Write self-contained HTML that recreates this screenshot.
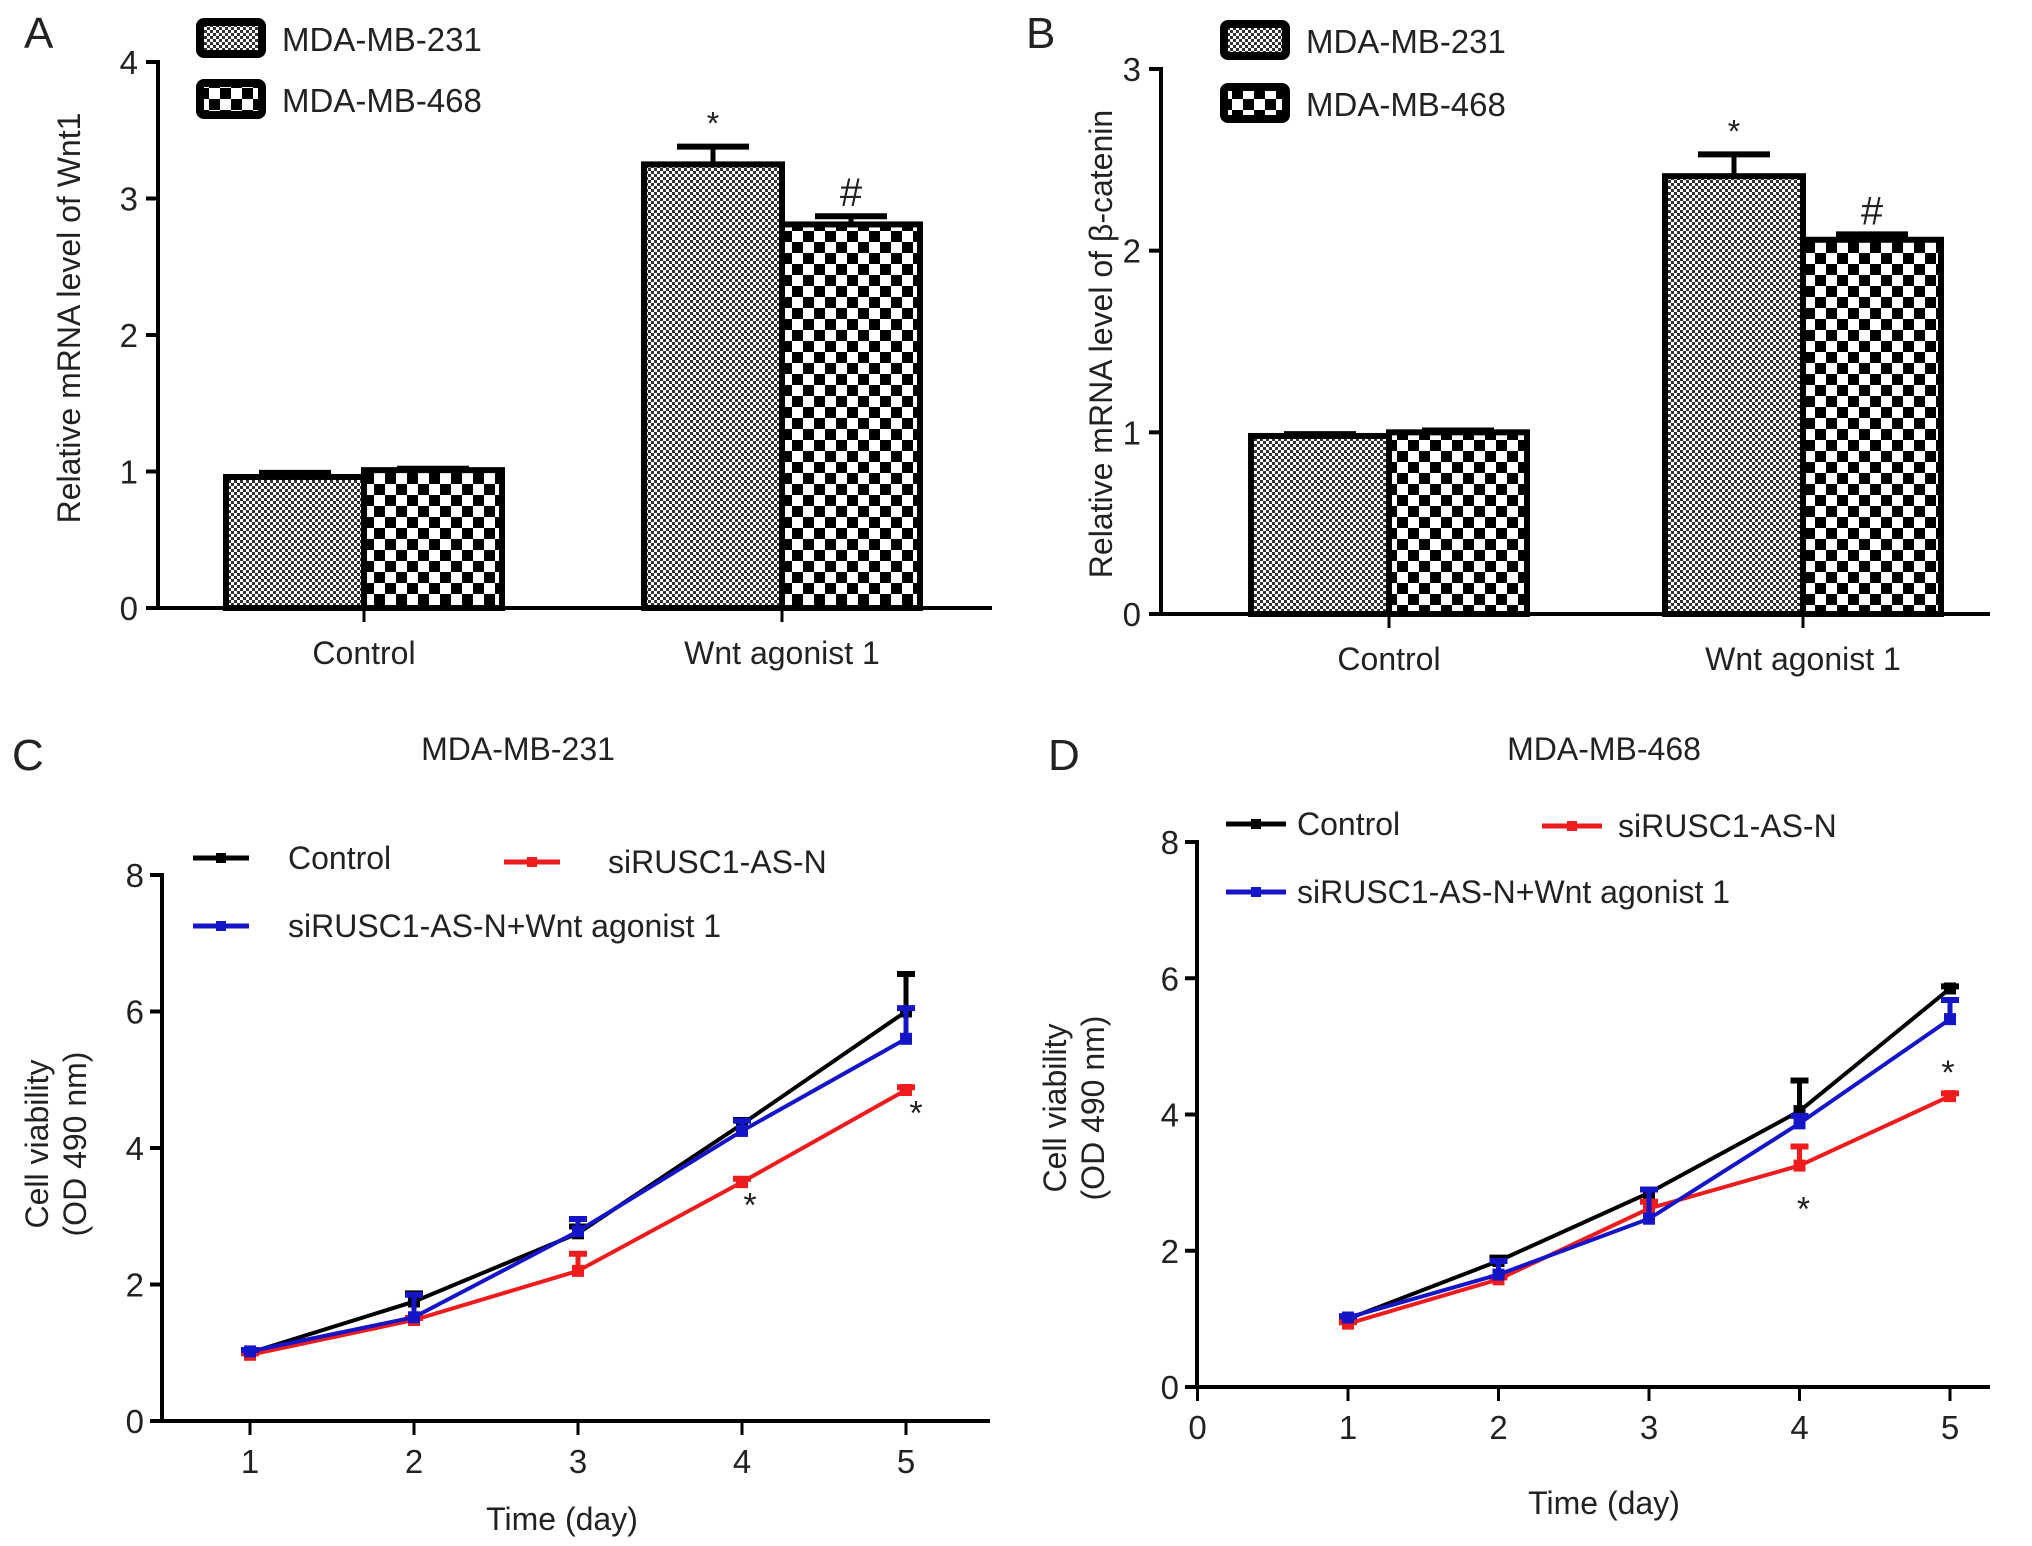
<!DOCTYPE html>
<html><head><meta charset="utf-8"><style>
body{margin:0;background:#fff}
svg{display:block;font-family:"Liberation Sans",Arial,sans-serif}
</style></head><body>
<svg id="fig" width="2032" height="1546" viewBox="0 0 2032 1546" xmlns="http://www.w3.org/2000/svg">
<defs>
<pattern id="fine" width="6" height="6" patternUnits="userSpaceOnUse">
<rect width="6" height="6" fill="#fff"/><rect width="3" height="3" fill="#333"/><rect x="3" y="3" width="3" height="3" fill="#333"/>
</pattern>
<pattern id="coarse" width="22" height="22" patternUnits="userSpaceOnUse">
<rect width="22" height="22" fill="#fff"/><rect width="11" height="11" fill="#000"/><rect x="11" y="11" width="11" height="11" fill="#000"/>
</pattern>
</defs>
</svg>
<script>
// ---- data ----
const barCategories = ["Control", "Wnt agonist 1"];
const barSeries = ["MDA-MB-231", "MDA-MB-468"];
const wnt1Values231 = [0.96, 3.25];
const wnt1Errors231 = [0.03, 0.13];
const wnt1Values468 = [1.01, 2.81];
const wnt1Errors468 = [0.01, 0.06];
const bcatValues231 = [0.98, 2.41];
const bcatErrors231 = [0.01, 0.12];
const bcatValues468 = [1.00, 2.06];
const bcatErrors468 = [0.01, 0.03];
const aTicks = [0, 1, 2, 3, 4];
const bTicks = [0, 1, 2, 3];
const aMarks = ["*", "#"];

const days = [1, 2, 3, 4, 5];
const cControl = [1.0, 1.75, 2.75, 4.35, 6.0];
const cControlErr = [0.03, 0.12, 0.1, 0.06, 0.55];
const cSi = [0.97, 1.48, 2.2, 3.5, 4.85];
const cSiErr = [0.02, 0.03, 0.25, 0.05, 0.04];
const cSiW = [1.02, 1.52, 2.78, 4.25, 5.6];
const cSiWErr = [0.02, 0.33, 0.18, 0.15, 0.45];
const dControl = [1.0, 1.85, 2.85, 4.05, 5.85];
const dControlErr = [0.03, 0.05, 0.05, 0.45, 0.03];
const dSi = [0.93, 1.58, 2.62, 3.25, 4.27];
const dSiErr = [0.02, 0.03, 0.1, 0.28, 0.04];
const dSiW = [1.02, 1.65, 2.47, 3.87, 5.4];
const dSiWErr = [0.02, 0.2, 0.43, 0.11, 0.28];
const lineTicksY = [0, 2, 4, 6, 8];
const dTicksX = [0, 1, 2, 3, 4, 5];
const lineLegend = ["Control", "siRUSC1-AS-N", "siRUSC1-AS-N+Wnt agonist 1"];

const NS = "http://www.w3.org/2000/svg";
const svg = document.getElementById("fig");
function el(tag, attrs, parent, text) {
  const e = document.createElementNS(NS, tag);
  for (const k in attrs) e.setAttribute(k, attrs[k]);
  if (text !== undefined) e.textContent = text;
  (parent || svg).appendChild(e);
  return e;
}
function grp(name, parent) {
  const g = el("g", {}, parent);
  
  
  return g;
}
function txt(parent, name, x, y, s, size, anchor, extra) {
  const t = el("text", Object.assign({x: x, y: y, "font-size": size, "text-anchor": anchor || "middle", fill: "#222"}, extra || {}), parent, s);
  
  
  return t;
}

// ---- bar panel ----
function barPanel(cfg) {
  const g = grp(cfg.name);
  const y = v => cfg.y0 - v * (cfg.y0 - cfg.yTop) / cfg.ymax;
  txt(g, "panel-letter", cfg.letterX, cfg.letterY, cfg.letter, 44, "start");
  const ax = grp("y-axis", g);
  el("line", {x1: cfg.ax, y1: cfg.yTop - 2, x2: cfg.ax, y2: cfg.y0 + 2, stroke: "#000", "stroke-width": 4}, ax);
  cfg.ticks.forEach(t => {
    el("line", {x1: cfg.ax - 12, y1: y(t), x2: cfg.ax, y2: y(t), stroke: "#000", "stroke-width": 4}, ax);
    txt(ax, "y-tick-label", cfg.ax - 20, y(t) + 12, String(t), 33, "end");
  });
  const xa = grp("x-axis", g);
  el("line", {x1: cfg.ax, y1: cfg.y0, x2: cfg.axEnd, y2: cfg.y0, stroke: "#000", "stroke-width": 4}, xa);
  barCategories.forEach((c, i) => {
    const cx = cfg.catX[i];
    el("line", {x1: cx, y1: cfg.y0, x2: cx, y2: cfg.y0 + 14, stroke: "#000", "stroke-width": 3}, xa);
    txt(xa, "x-category-label", cx, cfg.y0 + 56, c, 32);
  });
  txt(g, "y-axis-title", 0, 0, cfg.ylabel, 32, "middle", {transform: `translate(${cfg.ylabX},${cfg.ylabY}) rotate(-90)`});
  const bw = cfg.barW;
  [[cfg.v1, cfg.e1, "fine"], [cfg.v2, cfg.e2, "coarse"]].forEach((s, si) => {
    s[0].forEach((v, i) => {
      const x0 = si === 0 ? cfg.catX[i] - bw : cfg.catX[i];
      const r = el("rect", {x: x0, y: y(v), width: bw, height: cfg.y0 - y(v), fill: `url(#${s[2]})`, stroke: "#000", "stroke-width": 6}, g);
      
      
      const cx = x0 + bw / 2, ye = y(v + s[1][i]);
      el("line", {x1: cx, y1: y(v), x2: cx, y2: ye, stroke: "#000", "stroke-width": 5}, g);
      el("line", {x1: cx - 36, y1: ye, x2: cx + 36, y2: ye, stroke: "#000", "stroke-width": 6}, g);
      if (i === 1) txt(g, "significance-mark", cx, ye - (si === 0 ? 12 : 10), aMarks[si], si === 0 ? 32 : 40);
    });
  });
  const lg = grp("legend", g);
  ["fine", "coarse"].forEach((p, i) => {
    const ly = cfg.legY[i];
    el("rect", {x: cfg.legX, y: ly, width: 62, height: 32, rx: 4, fill: `url(#${p})`, stroke: "#000", "stroke-width": 8}, lg);
    txt(lg, "legend-entry", cfg.legX + 82, ly + 29, barSeries[i], 33, "start");
  });
}
barPanel({name: "panel-a", letter: "A", letterX: 24, letterY: 48, ax: 158, y0: 608, yTop: 62, ymax: 4, axEnd: 992,
  ticks: aTicks, catX: [364, 782], barW: 138, v1: wnt1Values231, e1: wnt1Errors231, v2: wnt1Values468, e2: wnt1Errors468,
  ylabel: "Relative mRNA level of Wnt1", ylabX: 80, ylabY: 318, legX: 200, legY: [22, 83]});
barPanel({name: "panel-b", letter: "B", letterX: 1026, letterY: 48, ax: 1161, y0: 614, yTop: 69, ymax: 3, axEnd: 1990,
  ticks: bTicks, catX: [1389, 1803], barW: 138, v1: bcatValues231, e1: bcatErrors231, v2: bcatValues468, e2: bcatErrors468,
  ylabel: "Relative mRNA level of β-catenin", ylabX: 1112, ylabY: 344, legX: 1224, legY: [24, 87]});

// ---- line panels ----
function linePanel(cfg) {
  const g = grp(cfg.name);
  const y = v => cfg.y0 - v * (cfg.y0 - cfg.yTop) / 8;
  const x = d => cfg.x1 + (d - 1) * cfg.step;
  txt(g, "panel-letter", cfg.letterX, cfg.letterY, cfg.letter, 44, "start");
  txt(g, "chart-title", cfg.titleX, cfg.titleY, cfg.title, 32);
  const ax = grp("y-axis", g);
  el("line", {x1: cfg.ax, y1: cfg.yTop - 2, x2: cfg.ax, y2: cfg.y0 + 2, stroke: "#000", "stroke-width": 4}, ax);
  lineTicksY.forEach(t => {
    el("line", {x1: cfg.ax - 12, y1: y(t), x2: cfg.ax, y2: y(t), stroke: "#000", "stroke-width": 4}, ax);
    txt(ax, "y-tick-label", cfg.ax - 18, y(t) + 12, String(t), 33, "end");
  });
  const xa = grp("x-axis", g);
  el("line", {x1: cfg.ax, y1: cfg.y0, x2: cfg.axEnd, y2: cfg.y0, stroke: "#000", "stroke-width": 4}, xa);
  cfg.xticks.forEach(d => {
    el("line", {x1: x(d), y1: cfg.y0, x2: x(d), y2: cfg.y0 + 14, stroke: "#000", "stroke-width": 3}, xa);
    txt(xa, "x-tick-label", x(d), cfg.y0 + 52, String(d), 33);
  });
  txt(g, "x-axis-title", cfg.xtX, cfg.xtY, "Time (day)", 32);
  const yt = txt(g, "y-axis-title", 0, 0, "", 32, "middle", {transform: `translate(${cfg.ylabX},${cfg.ylabY}) rotate(-90)`});
  el("tspan", {x: 0, dy: 0}, yt, "Cell viability");
  el("tspan", {x: 0, dy: 38}, yt, "(OD 490 nm)");
  const series = [[cfg.c, cfg.ce, "#000", "series-control"], [cfg.s, cfg.se, "#ee1c1c", "series-sirusc1-as-n"], [cfg.w, cfg.we, "#1515c8", "series-sirusc1-wnt"]];
  series.forEach(([vals, errs, col, nm]) => {
    const sg = grp(nm, g);
    el("polyline", {points: days.map((d, i) => `${x(d)},${y(vals[i])}`).join(" "), fill: "none", stroke: col, "stroke-width": 4}, sg);
    days.forEach((d, i) => {
      const ye = y(vals[i] + errs[i]);
      el("line", {x1: x(d), y1: y(vals[i]), x2: x(d), y2: ye, stroke: col, "stroke-width": 5}, sg);
      el("line", {x1: x(d) - 9, y1: ye, x2: x(d) + 9, y2: ye, stroke: col, "stroke-width": 6}, sg);
      const p = el("rect", {x: x(d) - 6, y: y(vals[i]) - 6, width: 12, height: 12, fill: col}, sg);
      
      
    });
  });
  cfg.stars.forEach(s => txt(g, "significance-mark", x(s[0]) + s[2], y(s[1]) + 14, "*", 34));
  const lg = grp("legend", g);
  const cols = ["#000", "#ee1c1c", "#1515c8"];
  cfg.leg.forEach((L, i) => {
    el("line", {x1: L[0], y1: L[2], x2: L[0] + cfg.legLen, y2: L[2], stroke: cols[i], "stroke-width": 5}, lg);
    el("rect", {x: L[0] + cfg.legLen / 2 - 5, y: L[2] - 5, width: 10, height: 10, fill: cols[i]}, lg);
    txt(lg, "legend-entry", L[1], L[2] + 11, lineLegend[i], 32, "start");
  });
}
linePanel({name: "panel-c", letter: "C", letterX: 12, letterY: 770, title: "MDA-MB-231", titleX: 518, titleY: 760,
  ax: 162, y0: 1421, yTop: 875, axEnd: 990, x1: 250, step: 164, xticks: days, xtX: 562, xtY: 1530,
  ylabX: 48, ylabY: 1144, c: cControl, ce: cControlErr, s: cSi, se: cSiErr, w: cSiW, we: cSiWErr,
  stars: [[4, 3.2, 8], [5, 4.55, 10]], legLen: 56,
  leg: [[193, 288, 858], [504, 608, 862], [193, 288, 926]]});
linePanel({name: "panel-d", letter: "D", letterX: 1048, letterY: 770, title: "MDA-MB-468", titleX: 1604, titleY: 760,
  ax: 1197, y0: 1387, yTop: 842, axEnd: 1990, x1: 1348, step: 150.5, xticks: dTicksX, xtX: 1604, xtY: 1514,
  ylabX: 1066, ylabY: 1108, c: dControl, ce: dControlErr, s: dSi, se: dSiErr, w: dSiW, we: dSiWErr,
  stars: [[4, 2.65, 4], [5, 4.65, -2]], legLen: 60,
  leg: [[1226, 1297, 824], [1542, 1618, 826], [1226, 1297, 892]]});
</script>
</body></html>
